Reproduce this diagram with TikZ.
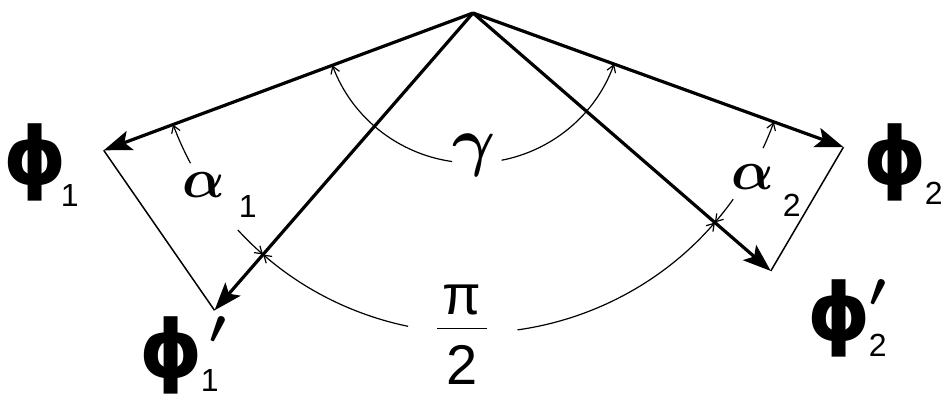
\RequirePackage{fix-cm}
\documentclass[tikz,border=0pt]{standalone}
\usepackage{fontspec}
\setmainfont{Liberation Sans}
\newfontfamily\phifont{DejaVu Sans}
\usetikzlibrary{arrows.meta}

\newcommand{\subfont}{\fontsize{32}{32}\selectfont}
\newcommand{\phiglyph}{{\phifont\bfseries\fontsize{80}{80}\selectfont ϕ}}
\newcommand{\primeglyph}{{\fontsize{48}{48}\selectfont\boldmath$\prime$}}

\tikzset{
  vec/.style={line width=3.2pt, -{Stealth[length=28pt,width=20pt,inset=6pt]}},
  chord/.style={line width=1.5pt},
  anglearc/.style={line width=1.2pt},
  greek/.style={inner sep=0pt, font=\fontsize{56}{56}\selectfont\boldmath},
  philab/.style={inner sep=0pt, anchor=base west}
}

\begin{document}
\begin{tikzpicture}[x=1pt,y=1pt]
	\useasboundingbox (0,0) rectangle (944,396);
	\coordinate (O) at (473,383);
	% the four vectors
	\coordinate (F1) at ([shift={(200.4:394)}]O);
	\coordinate (F1p) at ([shift={(229:394)}]O);
	\coordinate (F2) at ([shift={(340.1:394)}]O);
	\coordinate (F2p) at ([shift={(319.1:394)}]O);
	\draw[vec] (O) -- (F1);
	\draw[vec] (O) -- (F1p);
	\draw[vec] (O) -- (F2);
	\draw[vec] (O) -- (F2p);
	\draw[chord] (F1) -- (F1p);
	\draw[chord] (F2) -- (F2p);
	% gamma
	\draw[anglearc, {Straight Barb[length=7pt,width=9pt]}-] ([shift={(200.4:150)}]O) arc[start angle=200.4, end angle=262, radius=150];
	\draw[anglearc, -{Straight Barb[length=7pt,width=9pt]}] ([shift={(281:150)}]O) arc[start angle=281, end angle=340.1, radius=150];
	% pi/2
	\draw[anglearc, {Straight Barb[length=7pt,width=9pt]}-] ([shift={(229:320)}]O) arc[start angle=229, end angle=258.3, radius=320];
	\draw[anglearc, -{Straight Barb[length=7pt,width=9pt]}] ([shift={(278:320)}]O) arc[start angle=278, end angle=319.1, radius=320];
	% alpha 1 and alpha 2
	\draw[anglearc, {Straight Barb[length=7pt,width=9pt]}-] ([shift={(200.4:320)}]O) arc[start angle=200.4, end angle=208, radius=320];
	\draw[anglearc, -{Straight Barb[length=7pt,width=9pt]}] ([shift={(222.7:320)}]O) arc[start angle=222.7, end angle=229, radius=320];
	\draw[anglearc, -{Straight Barb[length=7pt,width=9pt]}] ([shift={(335:320)}]O) arc[start angle=335, end angle=340.1, radius=320];
	\draw[anglearc, {Straight Barb[length=7pt,width=9pt]}-] ([shift={(319.1:320)}]O) arc[start angle=319.1, end angle=324.4, radius=320];
	% labels
	\node[greek, font=\fontsize{66}{66}\selectfont\boldmath] (gam) at (474,241) {$\gamma$};
	\node[greek, anchor=base west] (a1) at (182,198) {$\alpha$\hspace{14pt}\raisebox{-20pt}{\subfont 1}};
	\node[greek, anchor=base west] (a2) at (731,206) {$\alpha$\hspace{9pt}\raisebox{-27pt}{\subfont 2}};
	\node[greek, anchor=base] (half) at (462,54) {$\displaystyle\frac{\makebox[50pt]{\raisebox{-14pt}[0pt][0pt]{π}}}{\mbox{2}}$};
	\node[philab] (l1) at (3,211) {\phiglyph\kern-6pt\raisebox{-22pt}{\subfont 1}};
	\node[philab] (l2) at (863,211) {\phiglyph\kern-2pt\raisebox{-20pt}{\subfont 2}};
	\node[philab] (l1p) at (139,19) {\phiglyph\rlap{\kern7pt\raisebox{34pt}{\primeglyph}}\kern-2pt\raisebox{-14pt}{\subfont 1}};
	\node[philab] (l2p) at (807,56) {\phiglyph\rlap{\kern-1pt\raisebox{33pt}{\primeglyph}}\kern-2pt\raisebox{-17pt}{\subfont 2}};
\end{tikzpicture}
\end{document}
